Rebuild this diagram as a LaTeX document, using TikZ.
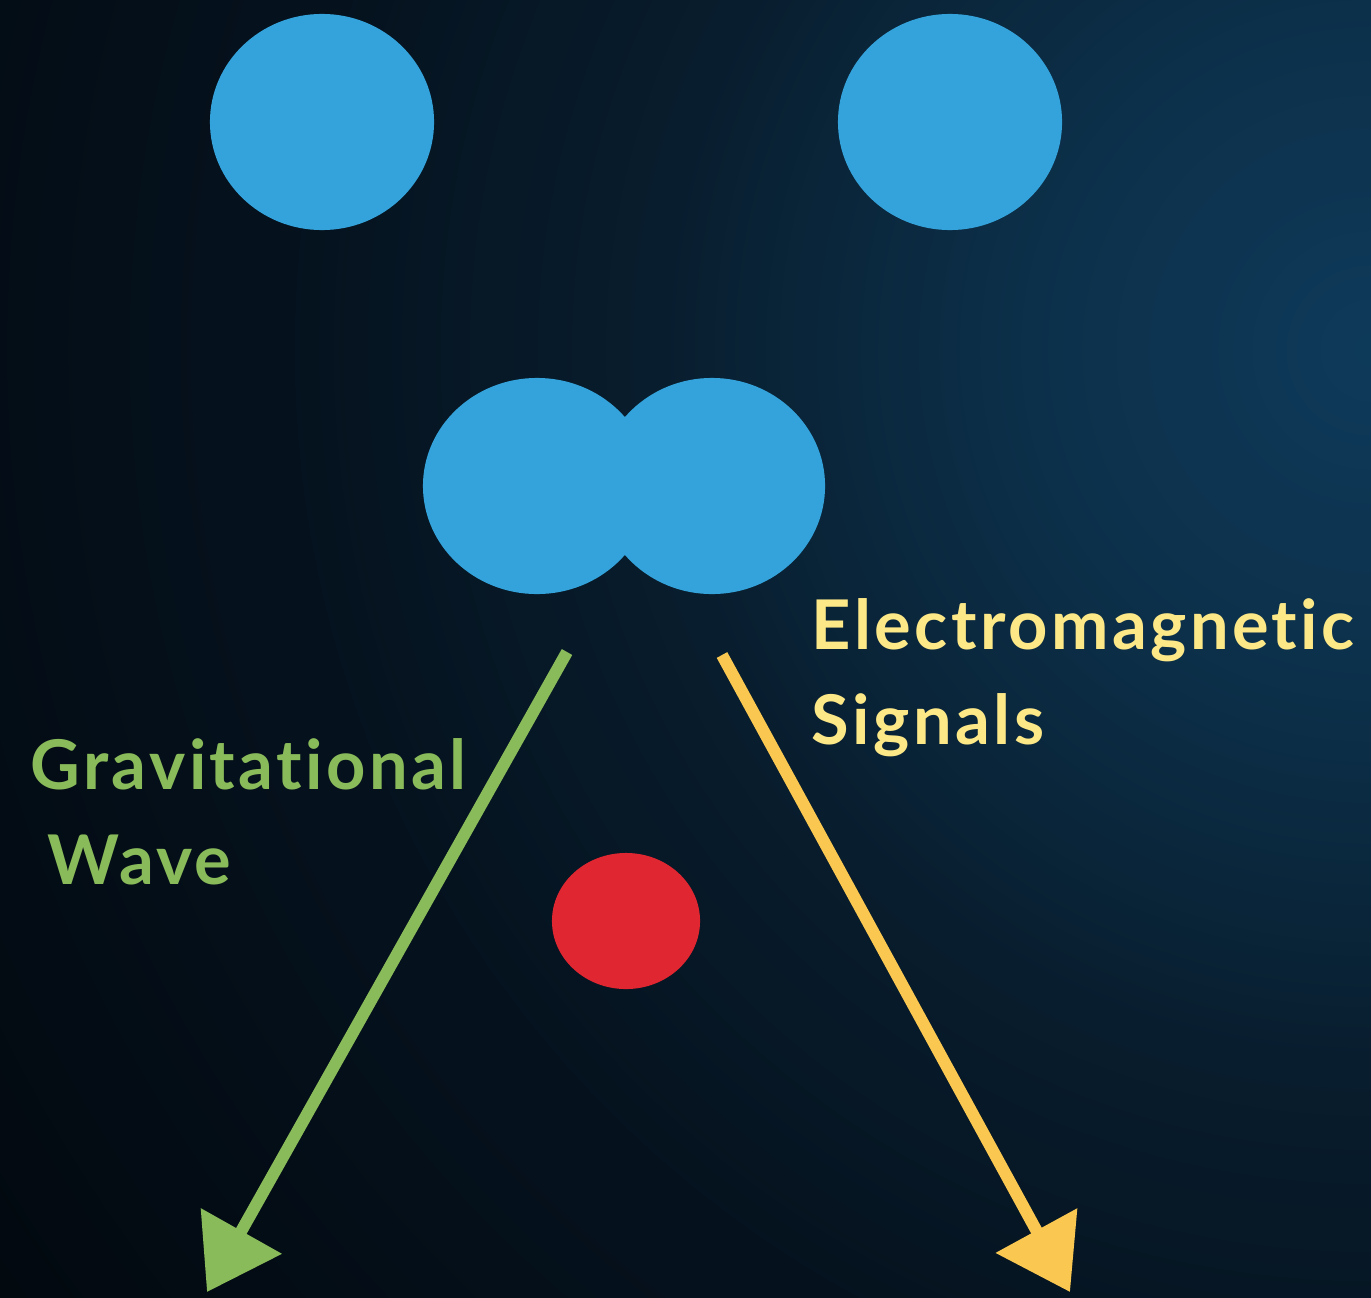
\documentclass[tikz,border=0pt]{standalone}
\usepackage{fontspec}
\setmainfont{Lato}[LetterSpace=5,Ligatures=NoCommon]
\usetikzlibrary{arrows.meta}

\definecolor{bgcentre}{RGB}{14,58,90}
\definecolor{bgglow}{RGB}{12,48,74}
\definecolor{bgmid}{RGB}{8,28,44}
\definecolor{bgdark}{RGB}{5,18,30}
\definecolor{bgedge}{RGB}{2,8,14}
\definecolor{starblue}{RGB}{52,163,219}
\definecolor{remnantred}{RGB}{224,38,48}
\definecolor{gwgreen}{RGB}{138,187,90}
\definecolor{emyellow}{RGB}{250,200,80}
\definecolor{emtext}{RGB}{253,232,135}

\pgfdeclareradialshading{skyglow}{\pgfpoint{0bp}{0bp}}{color(0bp)=(bgcentre); color(5bp)=(bgglow); color(11bp)=(bgmid); color(16bp)=(bgdark); color(25bp)=(bgedge); color(50bp)=(bgedge)}

\begin{document}
\begin{tikzpicture}[x=0.01cm,y=-0.01cm,
  neutronstar/.style={fill=starblue},
  signal/.style={line width=0.12cm,-{Triangle[length=0.7cm,width=0.9cm]}},
  caption/.style={font=\bfseries\fontsize{19.5}{27}\selectfont,align=left,anchor=north west,inner sep=0pt}]
\useasboundingbox (0,0) rectangle (1371,1297);
\begin{scope}
\clip (0,0) rectangle (1371,1297);
\shade[shading=skyglow] (1371,350) circle (17cm);
\end{scope}

% binary before merger
\fill[neutronstar] (322,122) ellipse [x radius=1.12cm,y radius=1.08cm];
\fill[neutronstar] (950,122) ellipse [x radius=1.12cm,y radius=1.08cm];

% merging pair
\fill[neutronstar] (537,486) ellipse [x radius=1.14cm,y radius=1.08cm];
\fill[neutronstar] (712,486) ellipse [x radius=1.13cm,y radius=1.08cm];

% remnant
\fill[remnantred] (626,921) ellipse [x radius=0.74cm,y radius=0.68cm];

% signals
\coordinate (gwstart) at (567,652);
\coordinate (gwend) at (207,1292);
\coordinate (emstart) at (722,655);
\coordinate (emend) at (1070,1292);
\draw[signal,gwgreen] (gwstart) -- (gwend);
\draw[signal,emyellow] (emstart) -- (emend);

\node[caption,text=emtext] (emlabel) at (811,598) {Electromagnetic\\Signals};
\node[caption,text=gwgreen] (gwlabel) at (30,738) {Gravitational\\\hspace*{0.17cm}Wave};
\end{tikzpicture}
\end{document}
